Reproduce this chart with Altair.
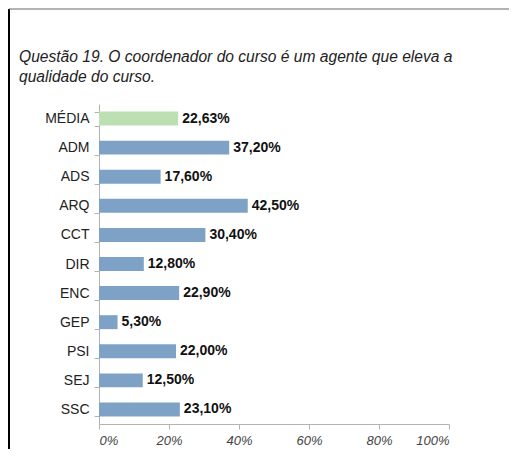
import altair as alt
import pandas as pd

categories = ["MÉDIA", "ADM", "ADS", "ARQ", "CCT", "DIR", "ENC", "GEP", "PSI", "SEJ", "SSC"]
values = [22.63, 37.20, 17.60, 42.50, 30.40, 12.80, 22.90, 5.30, 22.00, 12.50, 23.10]
groups = ["media"] + ["curso"] * 10
x_ticks = [0, 20, 40, 60, 80, 100]
title_lines = ["Questão 19. O coordenador do curso é um agente que eleva a", "qualidade do curso."]

df = pd.DataFrame({"cat": categories, "val": values, "grp": groups})
df["label"] = [f"{v:.2f}".replace(".", ",") + "%" for v in values]

FONT = "Liberation Sans"

y_enc = alt.Y("cat:N", sort=categories, title=None,
              scale=alt.Scale(paddingInner=0.52, paddingOuter=0.26),
              axis=alt.Axis(tickBand="extent", labelFont=FONT, labelFontSize=14,
                            labelColor="#222222", domainColor="#b3b3b3", tickColor="#b3b3b3",
                            tickSize=5, labelPadding=5, grid=False))

bars = alt.Chart(df).mark_bar().encode(
    x=alt.X("val:Q", title=None, scale=alt.Scale(domain=[0, 100]),
            axis=alt.Axis(values=x_ticks, labelExpr="datum.value + '%'", labelFont=FONT,
                          labelFontSize=13, labelFontStyle="italic", labelColor="#444444",
                          domainColor="#b3b3b3", tickColor="#b3b3b3", tickSize=5,
                          labelPadding=5, grid=False)),
    y=y_enc,
    color=alt.Color("grp:N", scale=alt.Scale(domain=["media", "curso"], range=["#bde0b3", "#7da2c6"]), legend=None),
)

labels = alt.Chart(df).mark_text(align="left", baseline="middle", dx=4, font=FONT,
                                 fontSize=14, fontWeight="bold", color="#111111").encode(
    x="val:Q", y=alt.Y("cat:N", sort=categories), text="label:N")

one = pd.DataFrame({"k": [0]})
left_line = alt.Chart(one).mark_rule(color="#000000", strokeWidth=2).encode(
    x=alt.value(-90), y=alt.value(-95), y2=alt.value(360))
top_line = alt.Chart(one).mark_rule(color="#666666", strokeWidth=1).encode(
    x=alt.value(-90), x2=alt.value(420), y=alt.value(-95))

title_style = dict(align="left", baseline="alphabetic", font=FONT, fontSize=15.6,
                   fontStyle="italic", color="#222222")
title1 = alt.Chart(one).mark_text(**title_style, text=title_lines[0]).encode(
    x=alt.value(-80), y=alt.value(-42))
title2 = alt.Chart(one).mark_text(**title_style, text=title_lines[1]).encode(
    x=alt.value(-80), y=alt.value(-22))

chart = alt.layer(left_line, top_line, title1, title2, bars, labels).properties(
    width=350, height=320,
    autosize=alt.AutoSizeParams(type="none"),
    padding={"left": 91, "top": 96, "right": 60, "bottom": 25},
).configure_view(stroke=None)

chart.save("out.html", embed_options={"renderer": "svg", "actions": False})
